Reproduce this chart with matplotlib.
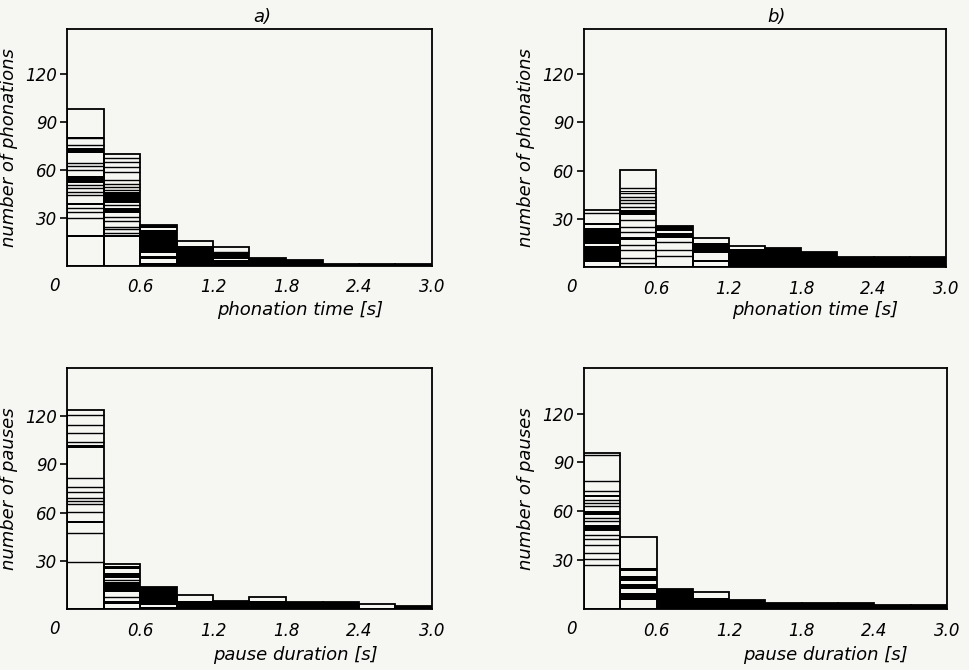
import matplotlib.pyplot as plt

# bins of 0.3 s from 0 to 3.0 s
edges = [0.0, 0.3, 0.6, 0.9, 1.2, 1.5, 1.8, 2.1, 2.4, 2.7]
xticks = [0.6, 1.2, 1.8, 2.4, 3.0]
xtick_labels = ['0.6', '1.2', '1.8', '2.4', '3.0']
yticks = [30, 60, 90, 120]
ytick_labels = ['30', '60', '90', '120']

# a) phonation time
a_heights = [98, 70, 25.6, 15.8, 12.1, 4.8, 3.8, 1.3, 1.0, 1.0]
a_lines = [[80, 75.6, 64.6, 62.5, 60, 50.6, 48.5, 46.5, 44.4, 36, 34, 29.8],
           [67.3, 65.2, 62, 59, 53.8, 51, 49.6, 47.5, 38.1, 30.8, 28.3, 24.6, 22.9, 20.8],
           [], [], [9], [], [], [], [], []]
a_bands = [[(79.3, 80.8), (70.4, 73.5), (52.1, 56.3), (38.3, 39.4), (18.2, 19.3)],
           [(39.2, 46.5), (32.9, 36), (18.2, 19.3)],
           [(23.8, 25.6), (8, 22.6), (4.2, 6.5), (0, 1.8)],
           [(0, 12.5)],
           [(0, 3.5), (4.5, 8.5)],
           [(0, 4.8)], [(0, 3.8)], [(0, 1.3)], [(0, 1.0)], [(0, 1.0)]]

# b) phonation time
b_heights = [35.5, 60.2, 25.2, 18.0, 13.0, 11.6, 9.1, 6.4, 6.4, 6.4]
b_lines = [[33.3],
           [49.2, 46.1, 43.7, 41.6, 39.5, 37.5, 29.2, 25, 21.9, 13.6, 10.5, 5.4, 2.2],
           [15.7, 10.5, 6.8], [], [], [], [], [], [], []]
b_bands = [[(26, 27.5), (14, 24), (3.3, 13.2)],
           [(46.5, 47.5), (32.3, 35.4), (16.7, 18.4)],
           [(22.3, 25.2), (17.8, 21)],
           [(8.5, 14.7), (3.2, 4.2)],
           [(0, 10.9)],
           [(0, 11.6)], [(0, 9.1)], [(0, 6.4)], [(0, 6.4)], [(0, 6.4)]]

# c) pause duration
c_heights = [124, 28, 13.4, 9.0, 4.7, 7.6, 4.1, 4.1, 3.0, 2.0]
c_lines = [[120.6, 114.4, 109.4, 104, 81.8, 76.2, 72.9, 68.8, 67.3, 65.2, 60.1, 47, 29.4],
           [18, 7.6], [], [], [], [], [], [], [], []]
c_bands = [[(100.5, 101.8), (53.8, 54.9)],
           [(24.8, 26.9), (19.6, 22.7), (10.7, 16.5), (3, 5.1)],
           [(0, 1.5), (2.5, 13.4)],
           [(0, 4.7)],
           [(0, 4.7)],
           [(0, 4.7)], [(0, 4.1)], [(0, 4.1)], [], [(0, 2.0)]]

# d) pause duration
d_heights = [96, 44.1, 12, 10.4, 5.5, 3.5, 3.5, 3.5, 2.4, 2.4]
d_lines = [[94.3, 78.4, 72.2, 67.1, 65.1, 63.1, 55.9, 53.9, 45.7, 42.7, 39.6, 34.5, 30.4, 27.3],
           [], [], [], [], [], [], [], [], []]
d_bands = [[(68.6, 70.2), (57.6, 60.4), (47.8, 51.4)],
           [(5.5, 10), (12, 15.1), (17.1, 20.2), (23.3, 25.3)],
           [(0, 12)],
           [(0, 6.5)],
           [(0, 5.5)],
           [(0, 3.5)], [(0, 3.5)], [(0, 3.5)], [(0, 2.4)], [(0, 2.4)]]

paper = '#f6f6f3'
plt.rcParams['font.family'] = 'DejaVu Sans'
plt.rcParams['font.style'] = 'italic'

fig = plt.figure(figsize=(9.7, 6.7), dpi=100, facecolor=paper)


def panel(rect, ymax, heights, lines, bands, ylabel):
    ax = fig.add_axes(rect, facecolor=paper)
    w = 0.3
    for i, x0 in enumerate(edges):
        for lo, hi in bands[i]:
            ax.bar(x0, hi - lo, bottom=lo, width=w, align='edge', color='black', linewidth=0)
        if lines[i]:
            ax.hlines(lines[i], x0, x0 + w, color='black', lw=1.0)
    ax.bar(edges, heights, width=w, align='edge', fill=False, edgecolor='black', linewidth=1.3)
    ax.set_xlim(0, 3.0)
    ax.set_ylim(0, ymax)
    ax.set_xticks(xticks)
    ax.set_xticklabels(xtick_labels)
    ax.set_yticks(yticks)
    ax.set_yticklabels(ytick_labels)
    ax.tick_params(axis='x', length=0, pad=9, labelsize=12)
    ax.tick_params(axis='y', length=5, width=1.2, direction='out', pad=2, labelsize=12)
    for s in ax.spines.values():
        s.set_linewidth(1.3)
    # the zero sits below the corner, on the x label line
    ax.text(-0.035, -0.085, '0', transform=ax.transAxes, ha='center', va='center', fontsize=12)
    ax.set_ylabel(ylabel, fontsize=13)
    ax.yaxis.set_label_coords(-0.135, 0.5)
    return ax


panel([67 / 970, 1 - 266 / 670, 365 / 970, 237 / 670], 148, a_heights, a_lines, a_bands,
      'number of phonations')
panel([584 / 970, 1 - 267 / 670, 362 / 970, 238 / 670], 148, b_heights, b_lines, b_bands,
      'number of phonations')
panel([67 / 970, 1 - 609 / 670, 365 / 970, 241 / 670], 150, c_heights, c_lines, c_bands,
      'number of pauses')
panel([584 / 970, 1 - 609 / 670, 363 / 970, 241 / 670], 148, d_heights, d_lines, d_bands,
      'number of pauses')

fig.text(262 / 970, 1 - 17 / 670, 'a)', ha='center', va='center', fontsize=13)
fig.text(777 / 970, 1 - 17 / 670, 'b)', ha='center', va='center', fontsize=13)
fig.text(300 / 970, 1 - 310 / 670, 'phonation time [s]', ha='center', va='center', fontsize=13)
fig.text(815 / 970, 1 - 310 / 670, 'phonation time [s]', ha='center', va='center', fontsize=13)
fig.text(295 / 970, 1 - 655 / 670, 'pause duration [s]', ha='center', va='center', fontsize=13)
fig.text(825 / 970, 1 - 655 / 670, 'pause duration [s]', ha='center', va='center', fontsize=13)

fig.savefig('out.png', dpi=100, facecolor=paper)
